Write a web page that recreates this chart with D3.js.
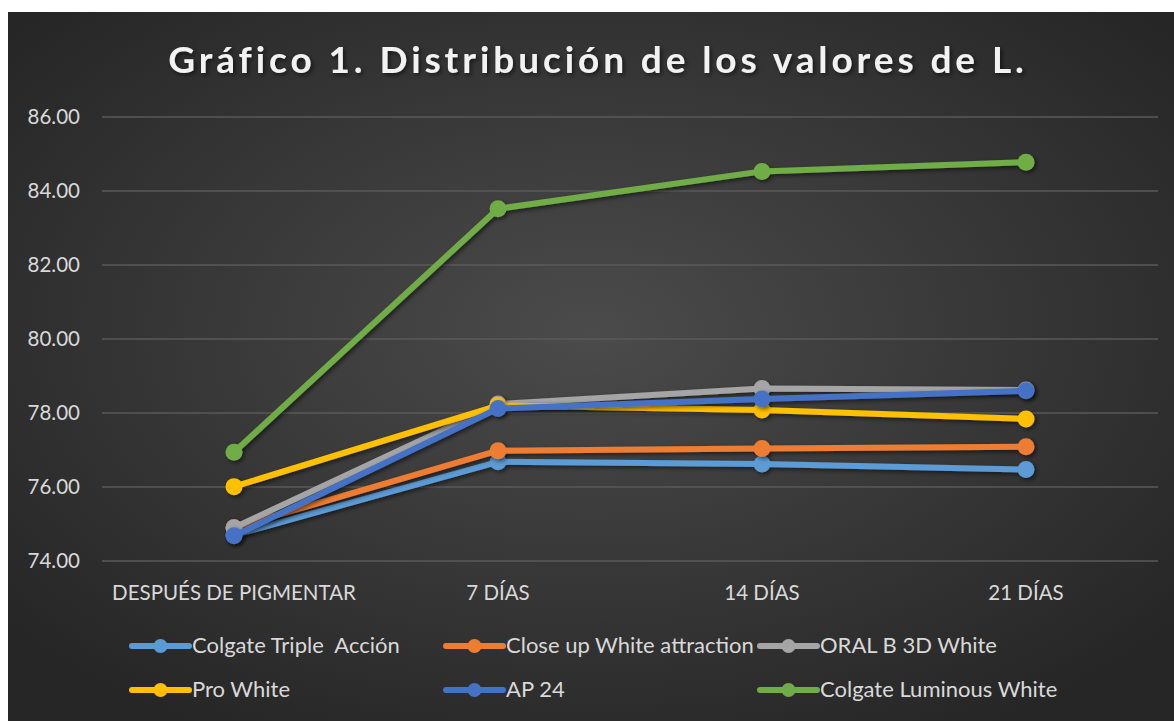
<!DOCTYPE html>
<html>
<head>
<meta charset="utf-8">
<script src="https://cdn.jsdelivr.net/npm/d3@7"></script>
<style>
  body { margin: 0; background: #fff; }
  svg { display: block; font-family: Lato, "Open Sans", sans-serif; }
</style>
</head>
<body>
<svg id="chart" width="1174" height="721"></svg>
<script>
const categories = ["DESPUÉS DE PIGMENTAR", "7 DÍAS", "14 DÍAS", "21 DÍAS"]
const seriesNames = ["Colgate Triple  Acción", "Close up White attraction", "ORAL B 3D White",
  "Pro White", "AP 24", "Colgate Luminous White"]
const colgateTriple = [74.70, 76.68, 76.62, 76.47]
const closeUp = [74.90, 76.98, 77.04, 77.09]
const oralB = [74.90, 78.24, 78.66, 78.62]
const proWhite = [76.01, 78.20, 78.08, 77.84]
const ap24 = [74.68, 78.12, 78.38, 78.60]
const luminous = [76.94, 83.52, 84.53, 84.78]
const yTicks = [74, 76, 78, 80, 82, 84, 86]
const colors = ["#5b9bd5", "#ed7d31", "#a5a5a5", "#ffc000", "#4472c4", "#70ad47"]

const series = [colgateTriple, closeUp, oralB, proWhite, ap24, luminous].map((v, i) => {
  return { name: seriesNames[i], values: v, color: colors[i] }
})

const svg = d3.select("#chart")
const defs = svg.append("defs")

const grad = defs.append("radialGradient")
  .attr("id", "bg")
  .attr("cx", "50%").attr("cy", "45%").attr("r", "65%")
grad.append("stop").attr("offset", "0%").attr("stop-color", "#4b4b4b")
grad.append("stop").attr("offset", "100%").attr("stop-color", "#262626")

const shadow = defs.append("filter").attr("id", "shadow")
  .attr("x", "-20%").attr("y", "-20%").attr("width", "140%").attr("height", "140%")
shadow.append("feDropShadow")
  .attr("dx", 2).attr("dy", 2).attr("stdDeviation", 2)
  .attr("flood-color", "#000").attr("flood-opacity", 0.55)

svg.append("rect")
  .attr("x", 8).attr("y", 12)
  .attr("width", 1166).attr("height", 709)
  .attr("fill", "url(#bg)")

svg.append("text")
  .attr("x", 598).attr("y", 73)
  .attr("text-anchor", "middle")
  .attr("fill", "#f2f2f2")
  .attr("font-size", 37)
  .attr("font-weight", "bold")
  .attr("letter-spacing", 3.9)
  .attr("filter", "url(#shadow)")
  .text("Gráfico 1. Distribución de los valores de L.")

const x = d3.scaleBand()
  .domain(categories)
  .range([102, 1158])

const y = d3.scaleLinear()
  .domain([74, 86])
  .range([561, 117])

svg.append("g")
  .selectAll("line")
  .data(yTicks)
  .enter()
  .append("line")
  .attr("x1", 102).attr("x2", 1158)
  .attr("y1", d => y(d)).attr("y2", d => y(d))
  .attr("stroke", "#5a5a5a")
  .attr("stroke-width", 1.3)

svg.append("g")
  .selectAll("text")
  .data(yTicks)
  .enter()
  .append("text")
  .attr("x", 80)
  .attr("y", d => y(d) + 7)
  .attr("text-anchor", "end")
  .attr("fill", "#d9d9d9")
  .attr("font-size", 20.5)
  .text(d => d.toFixed(2))

svg.append("g")
  .selectAll("text")
  .data(categories)
  .enter()
  .append("text")
  .attr("x", d => x(d) + x.bandwidth() / 2)
  .attr("y", 600)
  .attr("text-anchor", "middle")
  .attr("fill", "#d9d9d9")
  .attr("font-size", 20.5)
  .text(d => d)

const line = d3.line()
  .x((d, i) => x(categories[i]) + x.bandwidth() / 2)
  .y(d => y(d))

const groups = svg.selectAll("g.series")
  .data(series)
  .enter()
  .append("g")
  .attr("class", "series")
  .attr("filter", "url(#shadow)")

groups.append("path")
  .attr("d", d => line(d.values))
  .attr("fill", "none")
  .attr("stroke", d => d.color)
  .attr("stroke-width", 6)
  .attr("stroke-linejoin", "round")

groups.selectAll("circle")
  .data(d => d.values.map(v => ({ v: v, color: d.color })))
  .enter()
  .append("circle")
  .attr("cx", (d, i) => x(categories[i]) + x.bandwidth() / 2)
  .attr("cy", d => y(d.v))
  .attr("r", 8.5)
  .attr("fill", d => d.color)

// legend, 3 per row
const legendX = [132, 446, 760]
const legendY = [646, 690]

const legend = svg.selectAll("g.legend")
  .data(series)
  .enter()
  .append("g")
  .attr("class", "legend")
  .attr("transform", (d, i) => `translate(${legendX[i % 3]}, ${legendY[Math.floor(i / 3)]})`)

legend.append("line")
  .attr("x1", 0).attr("x2", 57)
  .attr("y1", 0).attr("y2", 0)
  .attr("stroke", d => d.color)
  .attr("stroke-width", 6)
  .attr("stroke-linecap", "round")

legend.append("circle")
  .attr("cx", 28.5).attr("cy", 0).attr("r", 7)
  .attr("fill", d => d.color)

legend.append("text")
  .attr("x", 60)
  .attr("y", 7)
  .attr("fill", "#d9d9d9")
  .attr("font-size", 22)
  .style("white-space", "pre")
  .text(d => d.name)
</script>
</body>
</html>
